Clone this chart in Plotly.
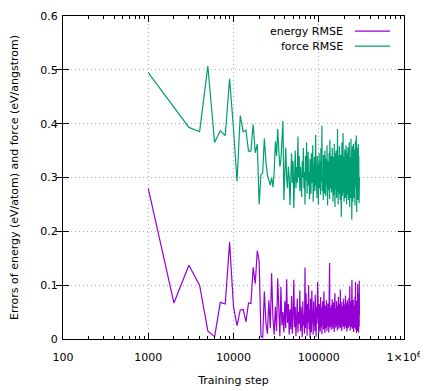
import plotly.graph_objects as go

steps = [1000 * i for i in range(1, 301)]

energy_rmse = [
    0.280, 0.067, 0.137, 0.100, 0.015, 0.004, 0.068, 0.065, 0.180, 0.060,
    0.025, 0.054, 0.055, 0.032, 0.067, 0.066, 0.133, 0.103, 0.164, 0.144,
    0.005, 0.002, 0.088, 0.030, 0.010, 0.072, 0.020, 0.122, 0.040, 0.008,
    0.060, 0.015, 0.113, 0.035, 0.005, 0.097, 0.025, 0.050, 0.012, 0.070,
    0.020, 0.111, 0.030, 0.065, 0.008, 0.055, 0.018, 0.080, 0.010, 0.045,
    0.110, 0.022, 0.060, 0.005, 0.040, 0.075, 0.012, 0.050, 0.028, 0.090,
    0.015, 0.060, 0.035, 0.003, 0.070, 0.025, 0.045, 0.010, 0.133, 0.020,
    0.085, 0.040, 0.006, 0.065, 0.030, 0.100, 0.018, 0.055, 0.002, 0.075,
    0.040, 0.012, 0.090, 0.030, 0.055, 0.008, 0.070, 0.025, 0.048, 0.015,
    0.082, 0.035, 0.004, 0.060, 0.028, 0.045, 0.106, 0.020, 0.050, 0.010,
    0.065, 0.030, 0.042, 0.014, 0.078, 0.036, 0.022, 0.058, 0.009, 0.047,
    0.070, 0.026, 0.040, 0.018, 0.088, 0.033, 0.052, 0.011, 0.062, 0.029,
    0.044, 0.020, 0.072, 0.038, 0.015, 0.055, 0.030, 0.066, 0.024, 0.046,
    0.012, 0.080, 0.035, 0.141, 0.040, 0.022, 0.058, 0.030, 0.048, 0.017,
    0.063, 0.034, 0.027, 0.074, 0.041, 0.019, 0.052, 0.037, 0.068, 0.025,
    0.044, 0.013, 0.060, 0.032, 0.085, 0.028, 0.049, 0.021, 0.057, 0.038,
    0.030, 0.070, 0.024, 0.046, 0.016, 0.062, 0.035, 0.054, 0.026, 0.078,
    0.040, 0.019, 0.050, 0.033, 0.065, 0.022, 0.045, 0.030, 0.092, 0.036,
    0.048, 0.020, 0.058, 0.031, 0.042, 0.015, 0.069, 0.037, 0.027, 0.053,
    0.040, 0.061, 0.023, 0.047, 0.034, 0.075, 0.029, 0.050, 0.018, 0.056,
    0.038, 0.064, 0.025, 0.044, 0.032, 0.081, 0.036, 0.021, 0.052, 0.040,
    0.067, 0.028, 0.046, 0.014, 0.058, 0.035, 0.072, 0.026, 0.049, 0.031,
    0.055, 0.020, 0.063, 0.039, 0.030, 0.076, 0.043, 0.024, 0.051, 0.034,
    0.098, 0.027, 0.045, 0.016, 0.060, 0.037, 0.048, 0.029, 0.070, 0.033,
    0.041, 0.022, 0.059, 0.036, 0.110, 0.030, 0.052, 0.019, 0.066, 0.040,
    0.028, 0.057, 0.035, 0.073, 0.025, 0.046, 0.013, 0.062, 0.038, 0.050,
    0.027, 0.068, 0.033, 0.044, 0.021, 0.079, 0.036, 0.054, 0.030, 0.106,
    0.042, 0.017, 0.058, 0.031, 0.065, 0.024, 0.047, 0.011, 0.071, 0.035,
    0.049, 0.026, 0.060, 0.038, 0.015, 0.102, 0.032, 0.055, 0.020, 0.074,
    0.041, 0.028, 0.063, 0.012, 0.085, 0.037, 0.052, 0.023, 0.108, 0.045,
]

force_rmse = [
    0.495, 0.430, 0.393, 0.385, 0.507, 0.365, 0.387, 0.378, 0.484, 0.390,
    0.293, 0.415, 0.385, 0.388, 0.349, 0.349, 0.399, 0.346, 0.362, 0.250,
    0.306, 0.308, 0.373, 0.330, 0.305, 0.295, 0.286, 0.300, 0.282, 0.310,
    0.367, 0.340, 0.390, 0.350, 0.320, 0.333, 0.360, 0.405, 0.258, 0.330,
    0.355, 0.300, 0.280, 0.320, 0.300, 0.249, 0.310, 0.345, 0.290, 0.330,
    0.243, 0.300, 0.350, 0.280, 0.320, 0.290, 0.376, 0.300, 0.340, 0.275,
    0.320, 0.290, 0.264, 0.330, 0.300, 0.355, 0.280, 0.310, 0.250, 0.340,
    0.295, 0.365, 0.270, 0.320, 0.348, 0.285, 0.310, 0.260, 0.335, 0.300,
    0.270, 0.345, 0.310, 0.290, 0.360, 0.255, 0.320, 0.300, 0.338, 0.275,
    0.315, 0.379, 0.285, 0.305, 0.262, 0.340, 0.295, 0.325, 0.250, 0.310,
    0.345, 0.280, 0.300, 0.330, 0.268, 0.355, 0.292, 0.315, 0.396, 0.275,
    0.320, 0.300, 0.258, 0.342, 0.290, 0.310, 0.270, 0.350, 0.298, 0.325,
    0.265, 0.335, 0.300, 0.285, 0.360, 0.312, 0.248, 0.330, 0.295, 0.318,
    0.276, 0.345, 0.302, 0.260, 0.370, 0.290, 0.322, 0.280, 0.340, 0.305,
    0.272, 0.330, 0.296, 0.355, 0.284, 0.315, 0.255, 0.338, 0.300, 0.320,
    0.268, 0.362, 0.292, 0.310, 0.245, 0.345, 0.298, 0.326, 0.278, 0.350,
    0.300, 0.262, 0.335, 0.290, 0.318, 0.390, 0.282, 0.312, 0.250, 0.340,
    0.296, 0.325, 0.270, 0.358, 0.305, 0.288, 0.332, 0.258, 0.315, 0.300,
    0.342, 0.276, 0.310, 0.227, 0.330, 0.295, 0.365, 0.284, 0.320, 0.266,
    0.348, 0.300, 0.382, 0.272, 0.315, 0.290, 0.338, 0.255, 0.325, 0.305,
    0.280, 0.352, 0.296, 0.318, 0.262, 0.340, 0.300, 0.275, 0.360, 0.290,
    0.328, 0.250, 0.335, 0.305, 0.282, 0.345, 0.268, 0.320, 0.298, 0.356,
    0.286, 0.312, 0.258, 0.342, 0.300, 0.325, 0.270, 0.366, 0.292, 0.316,
    0.245, 0.338, 0.304, 0.280, 0.350, 0.262, 0.322, 0.296, 0.372, 0.285,
    0.330, 0.268, 0.310, 0.222, 0.345, 0.300, 0.278, 0.358, 0.290, 0.320,
    0.255, 0.336, 0.302, 0.284, 0.362, 0.270, 0.315, 0.295, 0.340, 0.262,
    0.328, 0.290, 0.352, 0.276, 0.310, 0.248, 0.335, 0.300, 0.368, 0.282,
    0.318, 0.296, 0.344, 0.265, 0.325, 0.378, 0.288, 0.312, 0.236, 0.340,
    0.298, 0.330, 0.270, 0.355, 0.292, 0.318, 0.258, 0.345, 0.305, 0.280,
    0.362, 0.290, 0.325, 0.266, 0.340, 0.300, 0.252, 0.335, 0.285, 0.300,
]

x_tick_vals = [100, 1000, 10000, 100000, 1000000]
x_tick_text = ["100", "1000", "10000", "100000", "1×10<sup>6</sup>"]
x_minor_vals = [m * 10 ** e for e in range(2, 6) for m in range(2, 10)]
y_tick_vals = [0, 0.1, 0.2, 0.3, 0.4, 0.5, 0.6]
y_tick_text = ["0", "0.1", "0.2", "0.3", "0.4", "0.5", "0.6"]

series_names = ["energy RMSE", "force RMSE"]
colors = ["#9400d3", "#009e73"]

FONT = "DejaVu Sans"
GRID = dict(showgrid=True, gridcolor="#b0b0b0", griddash="1px,3px", gridwidth=1)

fig = go.Figure()
fig.add_trace(go.Scatter(x=steps, y=energy_rmse, mode="lines", name=series_names[0],
                         line=dict(color=colors[0], width=1.2), showlegend=False))
fig.add_trace(go.Scatter(x=steps, y=force_rmse, mode="lines", name=series_names[1],
                         line=dict(color=colors[1], width=1.2), showlegend=False))

# gnuplot-style legend: text right-aligned, line sample to the right
legend_y = [0.953, 0.907]
for name, col, yy in zip(series_names, colors, legend_y):
    fig.add_annotation(x=0.827, y=yy, xref="paper", yref="paper", text=name,
                       showarrow=False, xanchor="right", yanchor="middle",
                       font=dict(family=FONT, size=11, color="black"))
    fig.add_shape(type="line", xref="paper", yref="paper", x0=0.856, x1=0.959,
                  y0=yy, y1=yy, line=dict(color=col, width=1.2))

# the page body adds an 8px offset, so the figure is 8px smaller on each axis
fig.update_layout(
    width=420, height=383,
    margin=dict(l=55, r=24, t=8, b=52, autoexpand=False),
    paper_bgcolor="white", plot_bgcolor="white",
    font=dict(family=FONT, size=11, color="black"),
    xaxis=dict(
        type="log", range=[2, 6], automargin=False,
        tickmode="array", tickvals=x_tick_vals, ticktext=x_tick_text,
        ticks="inside", ticklen=6, tickcolor="black", tickwidth=1,
        ticklabelstandoff=8,
        showline=True, linecolor="black", linewidth=1, mirror="allticks",
        zeroline=False, layer="below traces",
        title=dict(text="Training step", font=dict(family=FONT, size=11), standoff=13),
        tickfont=dict(family=FONT, size=11),
        **GRID,
    ),
    xaxis2=dict(
        type="log", range=[2, 6], overlaying="x", side="bottom", automargin=False,
        tickmode="array", tickvals=x_minor_vals, showticklabels=False,
        ticks="inside", ticklen=3, tickcolor="black", tickwidth=1,
        showline=False, mirror="allticks", showgrid=False, zeroline=False,
        matches="x",
    ),
    yaxis=dict(
        range=[0, 0.6], automargin=False,
        tickmode="array", tickvals=y_tick_vals, ticktext=y_tick_text,
        ticks="inside", ticklen=6, tickcolor="black", tickwidth=1,
        ticklabelstandoff=2,
        showline=True, linecolor="black", linewidth=1, mirror="allticks",
        zeroline=False,
        title=dict(text="Errors of energy (eV/atom) and force (eV/angstrom)",
                   font=dict(family=FONT, size=11), standoff=20),
        tickfont=dict(family=FONT, size=11),
        **GRID,
    ),
)
# invisible helper trace so the minor-tick axis is drawn
fig.add_trace(go.Scatter(x=[steps[0]], y=[energy_rmse[0]], xaxis="x2", mode="lines",
                         showlegend=False, hoverinfo="skip", line=dict(width=0)))

fig.write_html("out.html")
